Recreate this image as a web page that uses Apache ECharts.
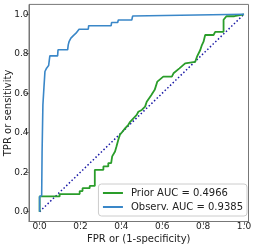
<!DOCTYPE html>
<html>
<head>
<meta charset="utf-8">
<script src="https://cdn.jsdelivr.net/npm/echarts@6/dist/echarts.min.js"></script>
<style>html,body{margin:0;padding:0;background:#fff}#c{width:258px;height:247px}</style>
</head>
<body>
<div id="c"></div>
<script>
const tickValues = [0, 0.2, 0.4, 0.6, 0.8, 1.0];
const observFpr = [0, 0, 0.010, 0.012, 0.016, 0.021, 0.025, 0.026, 0.032, 0.034, 0.044, 0.046, 0.050, 0.088, 0.090, 0.137, 0.140, 0.144, 0.153, 0.165, 0.178, 0.193, 0.238, 0.240, 0.350, 0.352, 0.382, 0.385, 0.451, 0.455, 0.462, 1.0];
const observTpr = [0, 0.077, 0.080, 0.300, 0.540, 0.627, 0.693, 0.710, 0.720, 0.727, 0.740, 0.750, 0.789, 0.789, 0.820, 0.820, 0.845, 0.861, 0.879, 0.892, 0.904, 0.924, 0.924, 0.942, 0.942, 0.958, 0.958, 0.971, 0.971, 0.991, 1.0, 1.0];
const priorFpr = [0, 0, 0.098, 0.098, 0.196, 0.196, 0.210, 0.210, 0.245, 0.245, 0.270, 0.270, 0.312, 0.312, 0.336, 0.336, 0.350, 0.355, 0.369, 0.376, 0.385, 0.393, 0.405, 0.418, 0.434, 0.443, 0.459, 0.475, 0.483, 0.500, 0.516, 0.524, 0.532, 0.546, 0.563, 0.576, 0.605, 0.647, 0.655, 0.684, 0.712, 0.720, 0.761, 0.770, 0.786, 0.794, 0.802, 0.810, 0.851, 0.859, 0.900, 0.900, 0.907, 0.914, 0.953, 0.958, 1.0];
const priorTpr = [0, 0.077, 0.077, 0.089, 0.089, 0.104, 0.104, 0.119, 0.119, 0.130, 0.130, 0.212, 0.212, 0.229, 0.229, 0.246, 0.246, 0.280, 0.305, 0.330, 0.364, 0.390, 0.405, 0.422, 0.440, 0.455, 0.473, 0.490, 0.506, 0.515, 0.532, 0.557, 0.567, 0.590, 0.617, 0.659, 0.684, 0.684, 0.701, 0.726, 0.751, 0.759, 0.759, 0.785, 0.819, 0.844, 0.861, 0.895, 0.895, 0.911, 0.911, 0.972, 0.982, 0.990, 0.990, 1.0, 1.0];
const diagX = [0, 1];
const diagY = [0, 1];
const priorName = 'Prior AUC = 0.4966';
const observName = 'Observ. AUC = 0.9385';

const zip = (a, b) => a.map((v, i) => [v, b[i]]);
const font = 'DejaVu Sans';
const chart = echarts.init(document.getElementById('c'), null, {renderer: 'canvas'});
const axisCommon = {
  type: 'value',
  splitLine: {show: false},
  axisLine: {show: true, onZero: false, lineStyle: {color: '#777', width: 1}},
  axisTick: {show: true, length: 3.5, customValues: tickValues, lineStyle: {color: '#777'}},
  nameMoveOverlap: false,
  nameTextStyle: {fontFamily: font, fontSize: 10, color: '#222'}
};
chart.setOption({
  animation: false,
  grid: {left: 29, top: 4.4, right: 9.5, bottom: 25.5, show: true, borderColor: '#777', borderWidth: 1,
         containLabel: false, outerBoundsMode: 'none'},
  xAxis: Object.assign({}, axisCommon, {
    min: -0.052, max: 1.022,
    axisLabel: {customValues: tickValues, formatter: v => v.toFixed(1), fontFamily: font, fontSize: 9, color: '#222', margin: 1},
    name: 'FPR or (1-specificity)', nameLocation: 'middle', nameGap: 13
  }),
  yAxis: Object.assign({}, axisCommon, {
    min: -0.05, max: 1.05,
    axisLabel: {customValues: tickValues, formatter: v => v.toFixed(1), fontFamily: font, fontSize: 9, color: '#222', margin: 0.5},
    name: 'TPR or sensitivity', nameLocation: 'middle', nameGap: 16
  }),
  legend: {
    right: 11, bottom: 31, orient: 'vertical', align: 'left',
    data: [priorName, observName],
    icon: 'rect', itemWidth: 20, itemHeight: 2, itemGap: 2,
    padding: [3, 4, 3, 4.5],
    backgroundColor: '#fff', borderColor: '#ccc', borderWidth: 1, borderRadius: 3,
    textStyle: {fontFamily: font, fontSize: 10, color: '#222', lineHeight: 12, padding: [0, 0, 0, 3]}
  },
  series: [
    {name: 'diag', type: 'line', data: zip(diagX, diagY), showSymbol: false, silent: true,
     lineStyle: {color: '#1a1aa6', width: 1.5, type: [1.5, 2.2]}, z: 1},
    {name: priorName, type: 'line', data: zip(priorFpr, priorTpr), showSymbol: false,
     color: '#2a9d2a', lineStyle: {color: '#2a9d2a', width: 1.8}, z: 2},
    {name: observName, type: 'line', data: zip(observFpr, observTpr), showSymbol: false,
     color: '#3a87c8', lineStyle: {color: '#3a87c8', width: 1.6}, z: 3}
  ]
});
</script>
</body>
</html>
